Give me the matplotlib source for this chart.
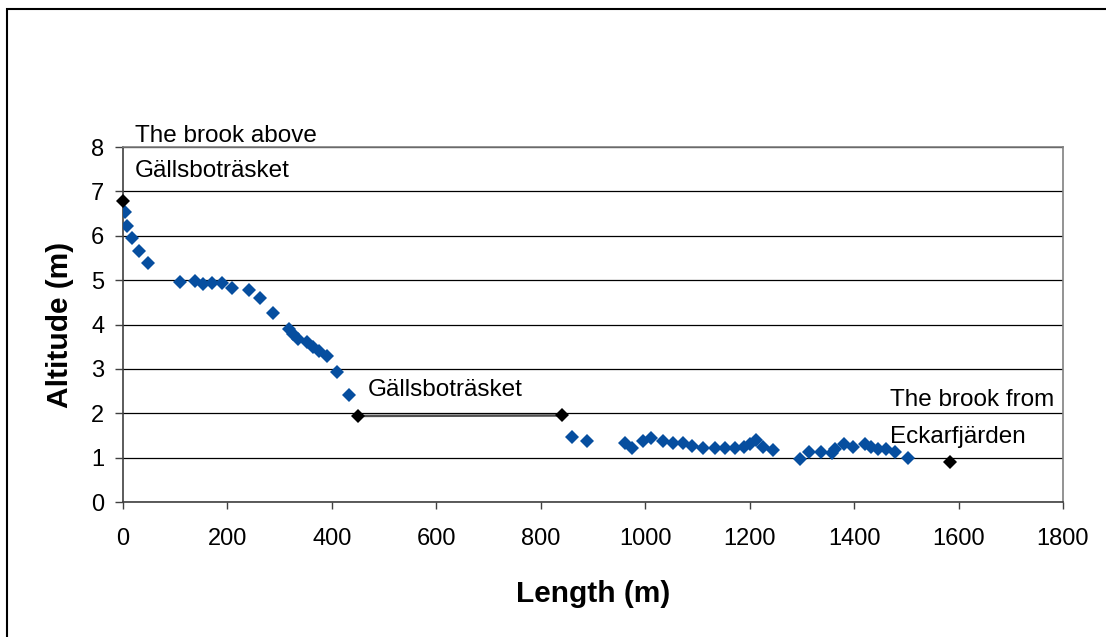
import numpy as np
import matplotlib
matplotlib.use("Agg")
import matplotlib.pyplot as plt
from matplotlib.patches import Rectangle

plt.rcParams['font.family'] = ['Liberation Sans', 'DejaVu Sans']

# Measured brook profile (blue diamonds)
length_m = [4, 7, 18, 31, 48,
            109, 138, 153, 170, 190, 209, 241, 262, 288,
            317, 326, 336, 352, 364, 376, 390, 409, 433,
            860, 889,
            961, 974, 995, 1012, 1035, 1054, 1073, 1089, 1111, 1134, 1153,
            1172, 1189, 1200, 1212, 1226, 1245,
            1296, 1314, 1336, 1357, 1363, 1381, 1397, 1421, 1433, 1446,
            1462, 1478, 1504]
altitude_m = [6.54, 6.23, 5.96, 5.65, 5.38,
              4.96, 4.98, 4.91, 4.94, 4.94, 4.82, 4.78, 4.60, 4.25,
              3.89, 3.78, 3.68, 3.60, 3.50, 3.40, 3.30, 2.94, 2.42,
              1.47, 1.37,
              1.34, 1.21, 1.38, 1.44, 1.38, 1.33, 1.34, 1.27, 1.21, 1.21, 1.21,
              1.21, 1.25, 1.30, 1.39, 1.25, 1.17,
              0.98, 1.12, 1.12, 1.11, 1.20, 1.30, 1.24, 1.30, 1.24, 1.20,
              1.19, 1.12, 1.00]

# Reference points (black diamonds)
inlet_x, inlet_y = [0], [6.78]
lake_x, lake_y = [450, 840], [1.94, 1.95]
outlet_x, outlet_y = [1583], [0.90]

x_ticks = [0, 200, 400, 600, 800, 1000, 1200, 1400, 1600, 1800]
y_ticks = [0, 1, 2, 3, 4, 5, 6, 7, 8]


def plot_profile(out_file):
    fig = plt.figure(figsize=(11.06, 6.37), dpi=100)
    ax = fig.add_axes([0.1112, 0.2119, 0.8499, 0.5573])

    # outer chart border (runs off the right and bottom edge)
    frame = Rectangle((7 / 1106, -0.1), 1.2, 1.1 - 9 / 637,
                      transform=fig.transFigure, fill=False,
                      edgecolor='black', linewidth=1.5)
    fig.patches.append(frame)

    ax.set_xlim(0, 1800)
    ax.set_ylim(0, 8)
    ax.set_xticks(x_ticks)
    ax.set_yticks(y_ticks)
    ax.yaxis.grid(True, color='black', linewidth=0.9)
    ax.set_axisbelow(True)

    for side in ['left', 'right', 'top', 'bottom']:
        ax.spines[side].set_color('#808080')
        ax.spines[side].set_linewidth(1.2)
    ax.spines['left'].set_color('#404040')
    ax.spines['bottom'].set_color('#404040')

    ax.tick_params(axis='x', direction='out', length=5, width=1,
                   color='#404040', labelsize=17, pad=14)
    ax.tick_params(axis='y', direction='out', length=5.5, width=1,
                   color='#404040', labelsize=17, pad=8)

    # lake stretch between inflow and outflow of Gällsboträsket
    ax.plot(lake_x, lake_y, color='#505050', linewidth=1.8, zorder=3)

    ax.plot(length_m, altitude_m, linestyle='none', marker='D',
            markersize=7.4, color='#064E9F', markeredgewidth=0, zorder=4)
    for xs, ys in [(inlet_x, inlet_y), (lake_x, lake_y), (outlet_x, outlet_y)]:
        ax.plot(xs, ys, linestyle='none', marker='D', markersize=7.4,
                color='black', markeredgewidth=0, zorder=5, clip_on=False)

    label_kw = dict(fontsize=17.5, ha='left', va='center', clip_on=False)
    ax.text(23, 8.25, "The brook above", **label_kw)
    ax.text(23, 7.46, "Gällsboträsket", **label_kw)
    ax.text(469, 2.52, "Gällsboträsket", **label_kw)
    ax.text(1469, 2.29, "The brook from", **label_kw)
    ax.text(1469, 1.46, "Eckarfjärden", **label_kw)

    ax.set_xlabel("Length (m)", fontsize=21.5, fontweight='bold', labelpad=21)
    ax.set_ylabel("Altitude (m)", fontsize=21.5, fontweight='bold', labelpad=12)

    fig.savefig(out_file, dpi=100)
    plt.close(fig)


def main():
    plot_profile('out.png')


if __name__ == "__main__":
    main()
